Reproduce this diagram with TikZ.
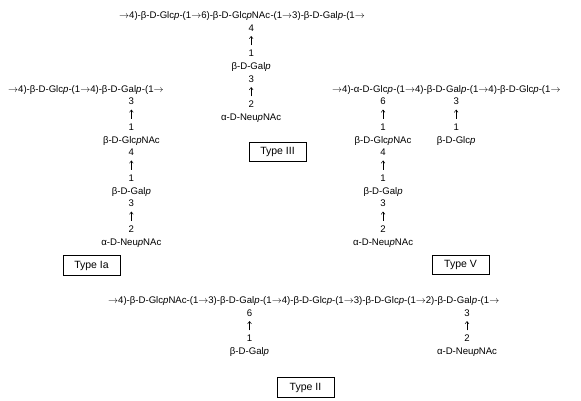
\documentclass[tikz,border=0pt]{standalone}
\usepackage{fontspec}
\setmainfont{Liberation Sans}
\usetikzlibrary{positioning}
\usetikzlibrary{arrows.meta}
\newcommand{\pyr}{\textit{p}}
\newcommand{\arr}{$\rightarrow$}
\tikzset{x=1pt, y=-1pt,
every node/.style={font=\fontsize{9.6}{11}\selectfont},
    chainpart/.style={inner sep=0pt, anchor=base west}, % one piece of a main chain
    branch/.style={inner sep=0pt, anchor=base, yshift=-12.75pt}, % next row of a side chain
    skiprow/.style={inner sep=0pt, anchor=base, yshift=-25.5pt}, % row after an arrow
    link/.style={-{Straight Barb[length=2.4pt,width=3.8pt]}, line width=0.5pt,
        shorten >=4.5pt, shorten <=4.5pt},
    typebox/.style={draw, line width=0.8pt, minimum width=57pt, minimum height=19.5pt,
        inner sep=0pt, font=\fontsize{10.5}{12}\selectfont}
}

\begin{document}
\begin{tikzpicture}
\useasboundingbox (0,0) rectangle (581,400);

% Type III
\node[chainpart] (iii-a) at (119,18.5) {\arr4)-β-D-Glc\pyr-(1\arr6)-β-D-};
\node[chainpart] (iii-glcnac) at (iii-a.base east) {Glc\pyr NAc};
\node[chainpart] (iii-b) at (iii-glcnac.base east) {-(1\arr3)-β-D-Gal\pyr-(1\arr};
\node[branch] (iii-4) at (iii-glcnac.base) {4};
\node[skiprow] (iii-1) at (iii-4.base) {1};
\node[branch] (iii-gal) at (iii-1.base) {β-D-Gal\pyr};
\node[branch] (iii-3) at (iii-gal.base) {3};
\node[skiprow] (iii-2) at (iii-3.base) {2};
\node[branch] (iii-neu) at (iii-2.base) {α-D-Neu\pyr NAc};
\node[typebox] (iii-type) at (277.5,152) {Type III};

% Type Ia
\node[chainpart] (ia-a) at (8,92) {\arr4)-β-D-Glc\pyr-(1\arr4)-β-D-};
\node[chainpart] (ia-gal) at (ia-a.base east) {Gal\pyr};
\node[chainpart] (ia-b) at (ia-gal.base east) {-(1\arr};
\node[branch] (ia-3) at (ia-gal.base) {3};
\node[skiprow] (ia-1) at (ia-3.base) {1};
\node[branch] (ia-glcnac) at (ia-1.base) {β-D-Glc\pyr NAc};
\node[branch] (ia-4) at (ia-glcnac.base) {4};
\node[skiprow] (ia-1b) at (ia-4.base) {1};
\node[branch] (ia-gal2) at (ia-1b.base) {β-D-Gal\pyr};
\node[branch] (ia-3b) at (ia-gal2.base) {3};
\node[skiprow] (ia-2) at (ia-3b.base) {2};
\node[branch] (ia-neu) at (ia-2.base) {α-D-Neu\pyr NAc};
\node[typebox] (ia-type) at (91.5,265.5) {Type Ia};

% Type V
\node[chainpart] (v-a) at (332,92) {\arr4)-α-D-};
\node[chainpart] (v-glc) at (v-a.base east) {Glc\pyr};
\node[chainpart] (v-b) at (v-glc.base east) {-(1\arr4)-β-D-};
\node[chainpart] (v-gal) at (v-b.base east) {Gal\pyr};
\node[chainpart] (v-c) at (v-gal.base east) {-(1\arr4)-β-D-Glc\pyr-(1\arr};
\node[branch] (v-6) at (v-glc.base) {6};
\node[skiprow] (v-1) at (v-6.base) {1};
\node[branch] (v-glcnac) at (v-1.base) {β-D-Glc\pyr NAc};
\node[branch] (v-4) at (v-glcnac.base) {4};
\node[skiprow] (v-1b) at (v-4.base) {1};
\node[branch] (v-gal2) at (v-1b.base) {β-D-Gal\pyr};
\node[branch] (v-3) at (v-gal2.base) {3};
\node[skiprow] (v-2) at (v-3.base) {2};
\node[branch] (v-neu) at (v-2.base) {α-D-Neu\pyr NAc};
\node[branch] (v-3c) at (v-gal.base) {3};
\node[skiprow] (v-1c) at (v-3c.base) {1};
\node[branch] (v-glc2) at (v-1c.base) {β-D-Glc\pyr};
\node[typebox] (v-type) at (460.5,265) {Type V};

% Type II
\node[chainpart] (ii-a) at (108,303.5) {\arr4)-β-D-Glc\pyr NAc-(1\arr3)-β-D-};
\node[chainpart] (ii-gal) at (ii-a.base east) {Gal\pyr};
\node[chainpart] (ii-b) at (ii-gal.base east) {-(1\arr4)-β-D-Glc\pyr-(1\arr3)-β-D-Glc\pyr-(1\arr2)-β-D-};
\node[chainpart] (ii-galb) at (ii-b.base east) {Gal\pyr};
\node[chainpart] (ii-c) at (ii-galb.base east) {-(1\arr};
\node[branch] (ii-6) at (ii-gal.base) {6};
\node[skiprow] (ii-1) at (ii-6.base) {1};
\node[branch] (ii-gal2) at (ii-1.base) {β-D-Gal\pyr};
\node[branch] (ii-3) at (ii-galb.base) {3};
\node[skiprow] (ii-2) at (ii-3.base) {2};
\node[branch] (ii-neu) at (ii-2.base) {α-D-Neu\pyr NAc};
\node[typebox] (ii-type) at (305.5,387.5) {Type II};

% linkage arrows
\draw[link] (iii-1) -- (iii-4);
\draw[link] (iii-2) -- (iii-3);
\draw[link] (ia-1) -- (ia-3);
\draw[link] (ia-1b) -- (ia-4);
\draw[link] (ia-2) -- (ia-3b);
\draw[link] (v-1) -- (v-6);
\draw[link] (v-1b) -- (v-4);
\draw[link] (v-2) -- (v-3);
\draw[link] (v-1c) -- (v-3c);
\draw[link] (ii-1) -- (ii-6);
\draw[link] (ii-2) -- (ii-3);
\end{tikzpicture}
\end{document}
